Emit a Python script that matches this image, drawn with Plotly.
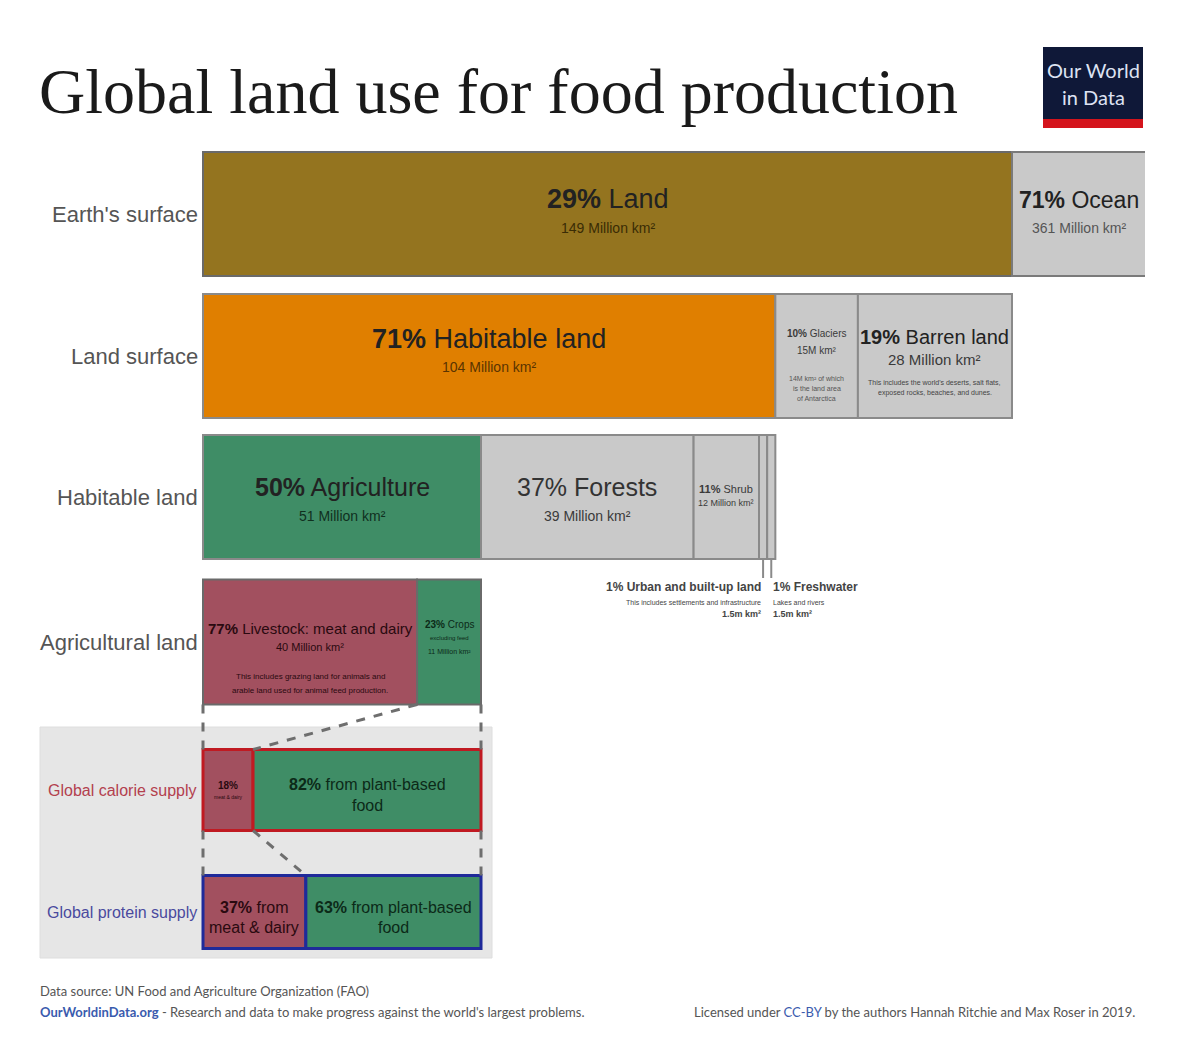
import plotly.graph_objects as go

# values in million km² and the printed shares
earth_labels = ["Land", "Ocean"]
earth_km2 = [149, 361]
earth_pct = [29, 71]

land_labels = ["Habitable land", "Glaciers", "Barren land"]
land_km2 = [104, 15, 28]
land_pct = [71, 10, 19]

habitable_labels = ["Agriculture", "Forests", "Shrub", "Urban and built-up land", "Freshwater"]
habitable_km2 = [51, 39, 12, 1.5, 1.5]
habitable_pct = [50, 37, 11, 1, 1]

agri_labels = ["Livestock: meat and dairy", "Crops"]
agri_km2 = [40, 11]
agri_pct = [77, 23]

calorie_labels = ["from meat & dairy", "from plant-based food"]
calorie_pct = [18, 82]
protein_labels = ["from meat & dairy", "from plant-based food"]
protein_pct = [37, 63]

row_labels = ["Earth's surface", "Land surface", "Habitable land", "Agricultural land"]
supply_labels = ["Global calorie supply", "Global protein supply"]

# page layout (pixels of the window; the page body adds an 8px margin)
WIN_W, WIN_H, PAD = 1179, 1059, 8
W, H = WIN_W - 2 * PAD, WIN_H - 2 * PAD
LEFT_PX, LAND_PX, RIGHT_PX = 203, 809, 1145
ROW_Y = [214, 356, 497, 642, 790, 912]
ROW_H = [124, 124, 124, 125, 81, 73]

LAND = "#94741f"
ORANGE = "#e07f00"
GREEN = "#3f8d66"
MEAT = "#a2505f"
GRAY = "#c9c9c9"
EDGE = "#8a8a8a"
TXT = "#222222"
SUB = "#3a3a3a"
FONT = "Liberation Sans, Arial, sans-serif"


def px(x):
    # window pixel -> paper fraction
    return (x - PAD) / W


def split(total, values, start=0):
    # widths of the children scaled so that they fill the parent segment
    s = sum(values)
    widths = [total * v / s for v in values]
    bases, pos = [], start
    for w in widths:
        bases.append(pos)
        pos += w
    return bases, widths


earth_b, earth_w = [0, earth_km2[0]], earth_km2
land_b, land_w = split(earth_km2[0], land_km2)
hab_b, hab_w = split(land_w[0], habitable_km2)
agri_b, agri_w = split(hab_w[0], agri_pct)
cal_b, cal_w = split(hab_w[0], calorie_pct)
pro_b, pro_w = split(hab_w[0], protein_pct)

px_per = LAND_PX / earth_km2[0]
r0 = -(LEFT_PX - PAD) / px_per
r1 = r0 + (RIGHT_PX - PAD) / px_per


def mid(b, w, i):
    return b[i] + w[i] / 2


fig = go.Figure()


def row(bases, widths, yi, colors, edges, lw=2):
    fig.add_trace(go.Bar(
        orientation="h", y=[ROW_Y[yi]] * len(widths), x=widths, base=bases,
        width=[ROW_H[yi]] * len(widths),
        marker=dict(color=colors, line=dict(color=edges, width=lw)),
        hoverinfo="skip", showlegend=False))


# grey panel behind the supply rows
fig.add_shape(type="rect", xref="paper", yref="y", x0=px(40), x1=px(492), y0=727, y1=958,
              fillcolor="#e6e6e6", line=dict(color="#dedede", width=1), layer="below")

row(earth_b, earth_w, 0, [LAND, GRAY], ["#6a6a6a", "#7a7a7a"])
row(land_b, land_w, 1, [ORANGE, GRAY, GRAY], [EDGE] * 3)
row(hab_b, hab_w, 2, [GREEN, GRAY, GRAY, GRAY, GRAY], [EDGE] * 5)
row(agri_b, agri_w, 3, [MEAT, GREEN], ["#6a6a6a"] * 2)
row(cal_b, cal_w, 4, [MEAT, GREEN], ["#c01a22"] * 2, 3)
row(pro_b, pro_w, 5, [MEAT, GREEN], ["#1f2a9a"] * 2, 3)

# dashed connectors between agricultural land and the supply rows
top3 = ROW_Y[3] + ROW_H[3] / 2
top4, bot4 = ROW_Y[4] - ROW_H[4] / 2, ROW_Y[4] + ROW_H[4] / 2
top5 = ROW_Y[5] - ROW_H[5] / 2
agri_end = agri_b[-1] + agri_w[-1]
links = [
    ([0, 0], [top3, top4]),
    ([agri_end, agri_end], [top3, top4]),
    ([agri_w[0], cal_w[0]], [top3, top4]),
    ([0, 0], [bot4, top5]),
    ([agri_end, agri_end], [bot4, top5]),
    ([cal_w[0], pro_w[0]], [bot4, top5]),
]
for lx, ly in links:
    fig.add_trace(go.Scatter(x=lx, y=ly, mode="lines", hoverinfo="skip", showlegend=False,
                             line=dict(color="#6e6e6e", width=3, dash="dash")))

# leader lines for the two thin segments
for i in (3, 4):
    xm = mid(hab_b, hab_w, i)
    fig.add_trace(go.Scatter(x=[xm, xm], y=[ROW_Y[2] + ROW_H[2] / 2, 578], mode="lines",
                             hoverinfo="skip", showlegend=False,
                             line=dict(color=EDGE, width=2)))

ann = []


def txt(x, y, text, size, color=TXT, xref="x", xanchor="center", family=FONT):
    ann.append(dict(x=x, y=y, xref=xref, yref="y", text=text, showarrow=False,
                    xanchor=xanchor, yanchor="middle",
                    font=dict(size=size, color=color, family=family)))


# title and logo
txt(px(37), 91, "Global land use for food production", 64, "#1a1a1a", "paper", "left",
    "Liberation Serif, Times New Roman, serif")
fig.add_shape(type="rect", xref="paper", yref="y", x0=px(1043), x1=px(1143), y0=47, y1=119,
              fillcolor="#0f1838", line=dict(width=0))
fig.add_shape(type="rect", xref="paper", yref="y", x0=px(1043), x1=px(1143), y0=119, y1=128,
              fillcolor="#d4141c", line=dict(width=0))
txt(px(1093), 70, "Our World", 20, "#dde2f2", "paper", "center", "Lato, sans-serif")
txt(px(1093), 97, "in Data", 20, "#dde2f2", "paper", "center", "Lato, sans-serif")

# row labels
for i, lab in enumerate(row_labels):
    txt(px(200), ROW_Y[i], lab, 22, "#555555", "paper", "right")
txt(px(199), ROW_Y[4], supply_labels[0], 16, "#b3404e", "paper", "right")
txt(px(199), ROW_Y[5], supply_labels[1], 16, "#4a4a9e", "paper", "right")

# Earth's surface
txt(mid(earth_b, earth_w, 0), 199, f"<b>{earth_pct[0]}%</b> {earth_labels[0]}", 27)
txt(mid(earth_b, earth_w, 0), 228, f"{earth_km2[0]} Million km²", 14, "#3a2c05")
ocean_mid = (earth_km2[0] + r1) / 2
txt(ocean_mid, 200, f"<b>{earth_pct[1]}%</b> {earth_labels[1]}", 23)
txt(ocean_mid, 228, f"{earth_km2[1]} Million km²", 14, "#555555")

# Land surface
txt(mid(land_b, land_w, 0), 339, f"<b>{land_pct[0]}%</b> {land_labels[0]}", 27)
txt(mid(land_b, land_w, 0), 367, f"{land_km2[0]} Million km²", 14, "#5a3400")
g = mid(land_b, land_w, 1)
txt(g, 333, f"<b>{land_pct[1]}%</b> {land_labels[1]}", 10, SUB)
txt(g, 350, f"{land_km2[1]}M km²", 10, SUB)
txt(g, 378, "14M km² of which", 7, "#555555")
txt(g, 388, "is the land area", 7, "#555555")
txt(g, 398, "of Antarctica", 7, "#555555")
b = mid(land_b, land_w, 2)
txt(b, 337, f"<b>{land_pct[2]}%</b> {land_labels[2]}", 20)
txt(b, 359, f"{land_km2[2]} Million km²", 15, SUB)
txt(b, 382, "This includes the world's deserts, salt flats,", 7, "#444444")
txt(b, 393, "exposed rocks, beaches, and dunes.", 7, "#444444")

# Habitable land
txt(mid(hab_b, hab_w, 0), 487, f"<b>{habitable_pct[0]}%</b> {habitable_labels[0]}", 25)
txt(mid(hab_b, hab_w, 0), 516, f"{habitable_km2[0]} Million km²", 14, "#10301f")
txt(mid(hab_b, hab_w, 1), 487, f"{habitable_pct[1]}% {habitable_labels[1]}", 25, "#333333")
txt(mid(hab_b, hab_w, 1), 516, f"{habitable_km2[1]} Million km²", 14, SUB)
txt(mid(hab_b, hab_w, 2), 489, f"<b>{habitable_pct[2]}%</b> {habitable_labels[2]}", 11, SUB)
txt(mid(hab_b, hab_w, 2), 503, f"{habitable_km2[2]} Million km²", 9, SUB)
xu = mid(hab_b, hab_w, 3)
xf = mid(hab_b, hab_w, 4)
txt(xu, 587, f"<b>{habitable_pct[3]}% {habitable_labels[3]}</b>", 12, "#444444", "x", "right")
txt(xu, 602, "This includes settlements and infrastructure", 7, "#444444", "x", "right")
txt(xu, 614, "<b>1.5m km²</b>", 9, "#444444", "x", "right")
txt(xf, 587, f"<b>{habitable_pct[4]}% {habitable_labels[4]}</b>", 12, "#444444", "x", "left")
txt(xf, 602, "Lakes and rivers", 7, "#444444", "x", "left")
txt(xf, 614, "<b>1.5m km²</b>", 9, "#444444", "x", "left")

# Agricultural land
lv = mid(agri_b, agri_w, 0)
txt(lv, 628, f"<b>{agri_pct[0]}%</b> {agri_labels[0]}", 15, "#2a0a10")
txt(lv, 647, f"{agri_km2[0]} Million km²", 11, "#2a0a10")
txt(lv, 676, "This includes grazing land for animals and", 8, "#2a0a10")
txt(lv, 690, "arable land used for animal feed production.", 8, "#2a0a10")
cr = mid(agri_b, agri_w, 1)
txt(cr, 624, f"<b>{agri_pct[1]}%</b> {agri_labels[1]}", 10, "#0c2a18")
txt(cr, 638, "excluding feed", 6, "#0c2a18")
txt(cr, 651, f"{agri_km2[1]} Million km²", 7, "#0c2a18")

# supply rows
txt(mid(cal_b, cal_w, 0), 785, f"<b>{calorie_pct[0]}%</b>", 10, "#2a0a10")
txt(mid(cal_b, cal_w, 0), 797, "meat & dairy", 5, "#2a0a10")
txt(mid(cal_b, cal_w, 1), 784, f"<b>{calorie_pct[1]}%</b> from plant-based", 16, "#0c2a18")
txt(mid(cal_b, cal_w, 1), 805, "food", 16, "#0c2a18")
txt(mid(pro_b, pro_w, 0), 907, f"<b>{protein_pct[0]}%</b> from", 16, "#2a0a10")
txt(mid(pro_b, pro_w, 0), 927, "meat & dairy", 16, "#2a0a10")
txt(mid(pro_b, pro_w, 1), 907, f"<b>{protein_pct[1]}%</b> from plant-based", 16, "#0c2a18")
txt(mid(pro_b, pro_w, 1), 927, "food", 16, "#0c2a18")

# footer
FOOT = "Lato, sans-serif"
txt(px(38), 991, "Data source: UN Food and Agriculture Organization (FAO)", 13, "#555555",
    "paper", "left", FOOT)
txt(px(38), 1012, "<span style='color:#3a5bae'><b>OurWorldinData.org</b></span>"
    " - Research and data to make progress against the world's largest problems.",
    13, "#555555", "paper", "left", FOOT)
txt(px(1137), 1012, "Licensed under <span style='color:#3a5bae'>CC-BY</span> by the authors"
    " Hannah Ritchie and Max Roser in 2019.", 13, "#555555", "paper", "right", FOOT)

fig.update_layout(
    width=W, height=H, margin=dict(l=0, r=0, t=0, b=0),
    paper_bgcolor="white", plot_bgcolor="rgba(0,0,0,0)",
    barmode="overlay", annotations=ann,
    xaxis=dict(range=[r0, r1], domain=[0, (RIGHT_PX - PAD) / W], visible=False, fixedrange=True),
    yaxis=dict(range=[WIN_H - PAD, PAD], domain=[0, 1], visible=False, fixedrange=True),
)

fig.write_html("out.html")
